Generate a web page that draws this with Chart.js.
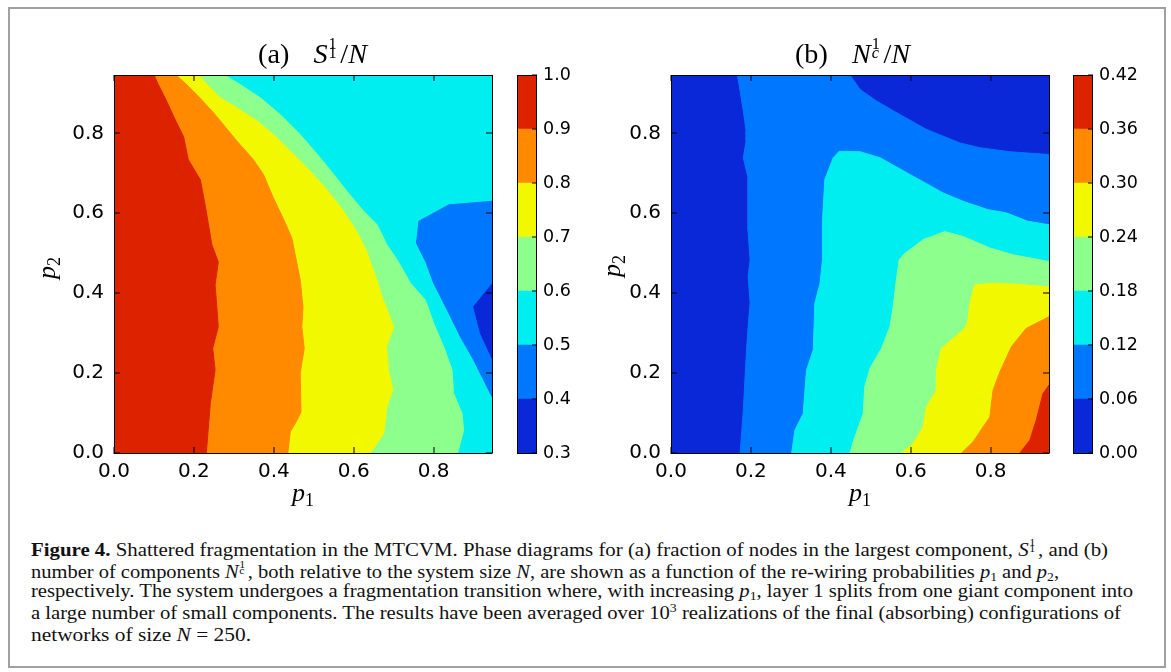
<!DOCTYPE html>
<html>
<head>
<meta charset="utf-8">
<script src="https://cdn.jsdelivr.net/npm/chart.js@4.4.0/dist/chart.umd.min.js"></script>
<style>
  body { margin: 0; background: #fff; width: 1171px; height: 672px; position: relative; overflow: hidden; }
  .frame { position: absolute; left: 8px; top: 7px; width: 1154px; height: 657px; border: 2px solid #a0a0a0; }
  canvas { position: absolute; }
  .ttl { position: absolute; white-space: nowrap; font: 28px/28px "Liberation Serif", serif; color: #000; transform-origin: 0 0; }
  .ttl .gap { display: inline-block; width: 24px; }
  .alab { position: absolute; white-space: nowrap; font: italic 26px/26px "Liberation Serif", serif; color: #000; transform: translateX(-50%); }
  .alab sub { font-style: normal; font-size: 18px; vertical-align: -5px; line-height: 0; }
  .rot { transform: translate(-50%, -50%) rotate(-90deg); }
  .cap { position: absolute; left: 31px; white-space: nowrap; font: 19.5px/22px "Liberation Serif", serif; color: #111; transform-origin: 0 0; }
  .cap sub { font-size: 13px; vertical-align: -3px; line-height: 0; }
  .cap sup { font-size: 13px; vertical-align: 7px; line-height: 0; }
  .ss { display: inline-block; position: relative; width: 0.45em; height: 1em; }
  .ss .u, .ss .d { position: absolute; left: 0.06em; font-size: 0.58em; line-height: 1; font-style: normal; }
  .ss .u { top: 0.06em; }
  .ss .d { top: 0.64em; }
</style>
</head>
<body>
<div class="frame"></div>

<canvas id="panelA" width="486" height="445" style="left:14px;top:60px"></canvas>
<canvas id="barA" width="90" height="410" style="left:505px;top:60px"></canvas>
<canvas id="panelB" width="486" height="445" style="left:571px;top:60px"></canvas>
<canvas id="barB" width="90" height="410" style="left:1061px;top:60px"></canvas>

<div class="ttl fit" data-left="258" data-end="367" style="left:258px;top:35px">(a)<span class="gap"></span><i>S</i><span class="ss"><span class="u">1</span><span class="d">1</span></span>/<i>N</i></div>
<div class="ttl fit" data-left="795" data-end="910" style="left:795px;top:35px">(b)<span class="gap"></span><i>N</i><span class="ss"><span class="u">1</span><span class="d"><i>c</i></span></span>/<i>N</i></div>

<div class="alab" style="left:303px;top:480px"><i>p</i><sub>1</sub></div>
<div class="alab" style="left:860px;top:480px"><i>p</i><sub>1</sub></div>
<div class="alab rot" style="left:47px;top:268px"><i>p</i><sub>2</sub></div>
<div class="alab rot" style="left:612px;top:266px"><i>p</i><sub>2</sub></div>

<div class="cap fit" data-left="31" data-end="1108" style="top:536px"><b>Figure 4.</b> Shattered fragmentation in the MTCVM. Phase diagrams for (a) fraction of nodes in the largest component, <i>S</i><span class="ss"><span class="u">1</span><span class="d">1</span></span>, and (b)</div>
<div class="cap fit" data-left="31" data-end="1059" style="top:558px">number of components <i>N</i><span class="ss"><span class="u">1</span><span class="d">c</span></span>, both relative to the system size <i>N</i>, are shown as a function of the re-wiring probabilities <i>p</i><sub>1</sub> and <i>p</i><sub>2</sub>,</div>
<div class="cap fit" data-left="31" data-end="1133" style="top:580px">respectively. The system undergoes a fragmentation transition where, with increasing <i>p</i><sub>1</sub>, layer 1 splits from one giant component into</div>
<div class="cap fit" data-left="31" data-end="1121" style="top:602px">a large number of small components. The results have been averaged over 10<sup>3</sup> realizations of the final (absorbing) configurations of</div>
<div class="cap fit" data-left="31" data-end="251" style="top:624px">networks of size <i>N</i> = 250.</div>

<script>
// band colours, lowest level first
const COLORS = ['#0a28d8', '#0077ff', '#00eef0', '#8dff8d', '#f2f800', '#ff8a00', '#dd2200'];
const LEVELS_A = [0.3, 0.4, 0.5, 0.6, 0.7, 0.8, 0.9, 1.0];
const LEVELS_B = [0.00, 0.06, 0.12, 0.18, 0.24, 0.30, 0.36, 0.42];
const P_TICKS = [0, 0.2, 0.4, 0.6, 0.8];
const P_MAX = 0.946;

// (a) S/N contour lines, [p1, p2]
const A_LEVEL_04 = [[0.946, 0.423], [0.900, 0.366], [0.917, 0.300], [0.946, 0.237]];
const A_LEVEL_05 = [[0.946, 0.630], [0.838, 0.621], [0.763, 0.580], [0.757, 0.525], [0.781, 0.477], [0.800, 0.425],
  [0.834, 0.358], [0.867, 0.291], [0.900, 0.233], [0.925, 0.183], [0.946, 0.141]];
const A_LEVEL_06 = [[0.276, 0.946], [0.316, 0.922], [0.366, 0.889], [0.416, 0.847], [0.466, 0.797], [0.516, 0.739],
  [0.550, 0.697], [0.583, 0.655], [0.625, 0.605], [0.658, 0.572], [0.683, 0.521], [0.709, 0.483], [0.742, 0.425],
  [0.779, 0.383], [0.800, 0.325], [0.825, 0.266], [0.846, 0.208], [0.850, 0.149], [0.871, 0.099], [0.875, 0.057], [0.860, 0.0]];
const A_LEVEL_07 = [[0.211, 0.946], [0.241, 0.914], [0.266, 0.889], [0.308, 0.864], [0.358, 0.831], [0.408, 0.789],
  [0.450, 0.747], [0.483, 0.714], [0.533, 0.659], [0.575, 0.605], [0.608, 0.554], [0.633, 0.504], [0.640, 0.483],
  [0.658, 0.433], [0.671, 0.391], [0.700, 0.316], [0.682, 0.266], [0.687, 0.208], [0.698, 0.158], [0.683, 0.116],
  [0.675, 0.049], [0.642, 0.0]];
const A_LEVEL_08 = [[0.155, 0.946], [0.182, 0.922], [0.211, 0.893], [0.253, 0.847], [0.308, 0.780], [0.349, 0.734],
  [0.374, 0.697], [0.399, 0.638], [0.423, 0.588], [0.445, 0.538], [0.456, 0.483], [0.466, 0.433], [0.473, 0.366],
  [0.470, 0.316], [0.476, 0.262], [0.466, 0.199], [0.468, 0.103], [0.458, 0.082], [0.441, 0.053], [0.435, 0.0]];
const A_LEVEL_09 = [[0.100, 0.946], [0.111, 0.922], [0.132, 0.880], [0.157, 0.826], [0.174, 0.792], [0.186, 0.734],
  [0.216, 0.684], [0.228, 0.621], [0.245, 0.521], [0.261, 0.478], [0.253, 0.421], [0.261, 0.316], [0.247, 0.262],
  [0.253, 0.208], [0.241, 0.124], [0.231, 0.0]];

// (b) Nc/N contour lines, [p1, p2]
const B_LEVEL_06_LEFT = [[0.166, 0.946], [0.173, 0.906], [0.181, 0.856], [0.188, 0.806], [0.188, 0.781], [0.181, 0.739],
  [0.193, 0.689], [0.193, 0.622], [0.193, 0.555], [0.198, 0.483], [0.193, 0.442], [0.198, 0.375], [0.193, 0.316],
  [0.189, 0.258], [0.185, 0.183], [0.181, 0.107], [0.173, 0.0]];
const B_LEVEL_06_TOP = [[0.448, 0.946], [0.473, 0.910], [0.514, 0.881], [0.573, 0.847], [0.639, 0.810], [0.723, 0.776],
  [0.773, 0.764], [0.848, 0.754], [0.946, 0.747]];
const B_LEVEL_12 = [[0.302, 0.0], [0.310, 0.057], [0.331, 0.099], [0.339, 0.207], [0.356, 0.258], [0.360, 0.375],
  [0.373, 0.425], [0.379, 0.483], [0.379, 0.580], [0.385, 0.684], [0.406, 0.739], [0.421, 0.755], [0.473, 0.754],
  [0.523, 0.739], [0.598, 0.697], [0.681, 0.651], [0.731, 0.630], [0.793, 0.609], [0.839, 0.601], [0.893, 0.580], [0.946, 0.571]];
const B_LEVEL_18 = [[0.448, 0.0], [0.456, 0.028], [0.481, 0.099], [0.485, 0.166], [0.498, 0.212], [0.527, 0.262],
  [0.548, 0.316], [0.556, 0.366], [0.564, 0.433], [0.571, 0.483], [0.581, 0.496], [0.631, 0.534], [0.685, 0.554],
  [0.731, 0.542], [0.798, 0.513], [0.856, 0.496], [0.946, 0.479]];
const B_LEVEL_24 = [[0.577, 0.0], [0.606, 0.024], [0.631, 0.065], [0.639, 0.115], [0.664, 0.157], [0.664, 0.207],
  [0.677, 0.262], [0.735, 0.312], [0.742, 0.325], [0.748, 0.375], [0.760, 0.421], [0.806, 0.425], [0.856, 0.423], [0.946, 0.416]];
const B_LEVEL_30 = [[0.727, 0.0], [0.756, 0.028], [0.798, 0.090], [0.806, 0.157], [0.823, 0.203], [0.852, 0.266],
  [0.889, 0.312], [0.946, 0.341]];
const B_LEVEL_36 = [[0.873, 0.0], [0.898, 0.032], [0.914, 0.082], [0.931, 0.149], [0.946, 0.170]];

const FULL = [[0, 0], [0, P_MAX], [P_MAX, P_MAX], [P_MAX, 0]];
const fromLeftTop = line => [[0, P_MAX], ...line, [0, 0]];
const toRightBottom = line => [...line, [P_MAX, 0]];

// painter's order: first entry is drawn first
const layersA = [
  { color: COLORS[2], points: FULL },
  { color: COLORS[3], points: fromLeftTop(A_LEVEL_06) },
  { color: COLORS[4], points: fromLeftTop(A_LEVEL_07) },
  { color: COLORS[5], points: fromLeftTop(A_LEVEL_08) },
  { color: COLORS[6], points: fromLeftTop(A_LEVEL_09) },
  { color: COLORS[1], points: A_LEVEL_05 },
  { color: COLORS[0], points: A_LEVEL_04 }
];
const layersB = [
  { color: COLORS[0], points: FULL },
  { color: COLORS[1], points: [...B_LEVEL_06_LEFT, [P_MAX, 0], ...B_LEVEL_06_TOP.slice().reverse()] },
  { color: COLORS[2], points: toRightBottom(B_LEVEL_12) },
  { color: COLORS[3], points: toRightBottom(B_LEVEL_18) },
  { color: COLORS[4], points: toRightBottom(B_LEVEL_24) },
  { color: COLORS[5], points: toRightBottom(B_LEVEL_30) },
  { color: COLORS[6], points: toRightBottom(B_LEVEL_36) }
];

const tickFont = { family: 'DejaVu Sans', size: 20 };
const barFont = { family: 'DejaVu Sans', size: 17.5 };
const frame = { display: true, color: '#000', width: 1, z: 1 };
// tick marks only, pointing into the plot; lineWidth 0 keeps bars off the zero line offset
const inward = len => ({ drawOnChartArea: false, drawTicks: true, tickLength: -len, color: '#000', lineWidth: 0, tickWidth: 1, z: 1 });
const setTicks = values => scale => { scale.ticks = values.map(value => ({ value })); };

// fixed axis thickness, and no extra room for labels that sit on the plot edge
const fitSize = (prop, size) => scale => {
  scale[prop] = size;
  scale.paddingTop = 0;
  scale.paddingBottom = 0;
  scale.paddingLeft = 0;
  scale.paddingRight = 0;
};

function contourPanel(id, layers) {
  const datasets = layers.map((layer, i) => ({
    data: layer.points.map(([x, y]) => ({ x, y })),
    backgroundColor: layer.color,
    borderColor: layer.color,
    borderWidth: 1,
    fill: 'shape',
    pointRadius: 0,
    pointHoverRadius: 0,
    tension: 0,
    clip: 0,
    order: layers.length - i
  }));
  const axis = (position, labelled, size) => ({
    type: 'linear',
    position,
    min: 0,
    max: P_MAX,
    afterBuildTicks: setTicks(P_TICKS),
    grid: inward(6),
    border: frame,
    ticks: labelled
      ? { display: true, padding: position === 'bottom' ? 13 : 16, color: '#000', font: tickFont, maxRotation: 0, callback: v => v.toFixed(1) }
      : { display: false },
    afterFit: fitSize(position === 'bottom' || position === 'top' ? 'height' : 'width', size)
  });
  return new Chart(document.getElementById(id), {
    type: 'line',
    data: { datasets },
    options: {
      responsive: false,
      animation: false,
      events: [],
      layout: { padding: { top: 15, right: 8, left: 0, bottom: 0 } },
      plugins: { legend: { display: false }, tooltip: { enabled: false } },
      scales: {
        x: axis('bottom', true, 52),
        x2: axis('top', false, 0),
        y: axis('left', true, 100),
        y2: axis('right', false, 0)
      }
    }
  });
}

function colorBar(id, levels, digits) {
  const datasets = COLORS.map((color, i) => ({
    data: [[levels[i], levels[i + 1]]],
    backgroundColor: color,
    borderWidth: 0,
    grouped: false,
    barPercentage: 1,
    categoryPercentage: 1
  }));
  const lo = levels[0], hi = levels[levels.length - 1];
  const edge = position => ({
    type: 'category',
    position,
    grid: { display: false },
    border: frame,
    ticks: { display: false },
    afterFit: fitSize('height', 0)
  });
  return new Chart(document.getElementById(id), {
    type: 'bar',
    data: { labels: [''], datasets },
    options: {
      responsive: false,
      animation: false,
      events: [],
      layout: { padding: { top: 15, right: 0, left: 12, bottom: 17 } },
      plugins: { legend: { display: false }, tooltip: { enabled: false } },
      scales: {
        x: edge('bottom'),
        x2: edge('top'),
        y: {
          type: 'linear', position: 'right', min: lo, max: hi,
          afterBuildTicks: setTicks(levels),
          grid: inward(4),
          border: frame,
          ticks: { padding: 11, color: '#000', font: barFont, callback: v => v.toFixed(digits) },
          afterFit: fitSize('width', 59)
        },
        y2: {
          type: 'linear', position: 'left', min: lo, max: hi,
          grid: { display: false },
          border: frame,
          ticks: { display: false },
          afterFit: fitSize('width', 0)
        }
      }
    }
  });
}

contourPanel('panelA', layersA);
colorBar('barA', LEVELS_A, 1);
contourPanel('panelB', layersB);
colorBar('barB', LEVELS_B, 2);

// stretch titles and caption lines to the width they have in the figure
document.querySelectorAll('.fit').forEach(el => {
  const w = el.getBoundingClientRect().width;
  el.style.transform = 'scaleX(' + ((+el.dataset.end - +el.dataset.left) / w) + ')';
});
</script>
</body>
</html>
